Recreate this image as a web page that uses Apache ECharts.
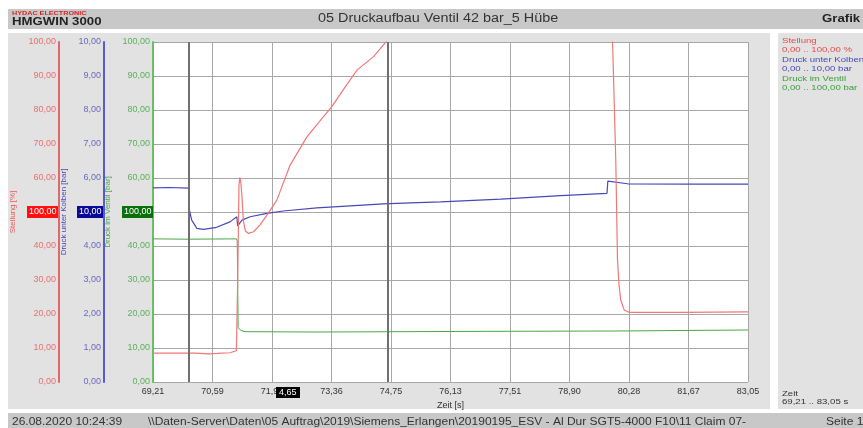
<!DOCTYPE html>
<html><head><meta charset="utf-8">
<script src="https://cdn.jsdelivr.net/npm/echarts@6/dist/echarts.min.js"></script>
<style>html,body{margin:0;padding:0;background:#fff}#c{width:863px;height:428px}</style>
</head><body><div id="c"></div>
<script>
// Time ticks (s)
const timeTicks = [69.21, 70.594, 71.978, 73.362, 74.746, 76.13, 77.514, 78.898, 80.282, 81.666, 83.05];
const cursorTimes = [70.05, 74.66];

// Stellung [%]
const stellungT = [69.21, 70.2, 70.5, 70.7, 71.0, 71.15, 71.18, 71.21, 71.23, 71.25, 71.28, 71.31, 71.36, 71.43, 71.55, 71.70, 71.86, 72.09, 72.40, 72.79, 73.08, 73.37, 73.67, 73.96, 74.34, 74.66, 75.5, 77.0, 79.0, 79.86, 79.90, 79.975, 80.014, 80.05, 80.09, 80.17, 80.28, 81.5, 83.05];
const stellungV = [8.5, 8.5, 8.3, 8.4, 8.6, 9.2, 30, 58, 60.2, 59, 54.5, 47.6, 44.4, 43.7, 44.2, 46.2, 49.1, 53.5, 63.8, 72.1, 76.6, 81.0, 86.6, 91.8, 95.7, 100.5, 108, 118, 125, 112, 100, 65, 36, 28.5, 24.1, 21.2, 20.5, 20.5, 20.6];

// Druck unter Kolben [bar]
const kolbenT = [69.21, 69.6, 70.04, 70.05, 70.06, 70.11, 70.23, 70.38, 70.69, 71.00, 71.16, 71.18, 71.28, 71.47, 71.86, 72.24, 73.02, 73.80, 74.57, 75.20, 75.90, 77.30, 78.69, 79.77, 79.79, 80.25, 81.67, 83.05];
const kolbenV = [5.71, 5.72, 5.70, 4.57, 5.04, 4.76, 4.52, 4.49, 4.55, 4.71, 4.86, 4.59, 4.76, 4.86, 4.96, 5.03, 5.12, 5.18, 5.24, 5.27, 5.30, 5.38, 5.48, 5.55, 5.91, 5.83, 5.82, 5.82];

// Druck im Ventil [bar]
const ventilT = [69.21, 70.0, 71.15, 71.17, 71.19, 71.25, 71.35, 73.0, 77.0, 80.0, 83.05];
const ventilV = [42.1, 42.0, 42.1, 41.5, 16.0, 15.2, 14.8, 14.7, 14.9, 15.0, 15.3];

const pairs = (t, v) => t.map((x, i) => [x, v[i]]);
const fmt = (v, d) => v.toFixed(d).replace('.', ',');

const RED = '#e85a5a', BLUE = '#4848b8', GREEN = '#48a848';
const FONT = 'Liberation Sans';
const F = (size, bold) => (bold ? 'bold ' : '') + size + 'px "Liberation Sans"';
const txt = (x, y, text, fill, font, extra) => Object.assign({
  type: 'text', x: x, y: y, scaleX: 1.2, z: 20,
  style: { text: text, fill: fill, font: font, textBaseline: 'top' }
}, extra || {});

const chart = echarts.init(document.getElementById('c'));
chart.setOption({
  backgroundColor: '#ffffff',
  animation: false,
  textStyle: { fontFamily: FONT },
  grid: { left: 153, right: 115, top: 42, bottom: 46, show: true, backgroundColor: '#ffffff', borderWidth: 0 },
  xAxis: {
    type: 'value', min: 69.21, max: 83.05,
    name: 'Zeit [s]', nameLocation: 'middle', nameGap: 17,
    nameTextStyle: { fontSize: 9, color: '#333', fontFamily: FONT },
    axisLine: { show: false },
    axisTick: { show: false, customValues: timeTicks },
    axisLabel: { customValues: timeTicks, formatter: v => fmt(v, 2), fontSize: 9, color: '#333', margin: 5, fontFamily: FONT },
    splitLine: { show: true, lineStyle: { color: '#a8a8a8', width: 1 } }
  },
  yAxis: [
    { type: 'value', min: 0, max: 100, interval: 10, position: 'left', offset: 0,
      name: 'Druck im Ventil [bar]', nameLocation: 'middle', nameGap: 35, nameRotate: 90,
      nameTextStyle: { fontSize: 8, color: GREEN, fontFamily: FONT },
      axisLine: { show: true, lineStyle: { color: '#6cbc6c', width: 2 } },
      axisTick: { show: true, inside: true, length: 3, lineStyle: { color: '#6cbc6c' } },
      axisLabel: { fontSize: 9, color: '#5cb05c', margin: 3, formatter: v => v === 50 ? '' : fmt(v, 2), fontFamily: FONT },
      splitLine: { show: true, lineStyle: { color: '#a8a8a8', width: 1 } } },
    { type: 'value', min: 0, max: 10, interval: 1, position: 'left', offset: 49,
      name: 'Druck unter Kolben [bar]', nameLocation: 'middle', nameGap: 32, nameRotate: 90,
      nameTextStyle: { fontSize: 8, color: BLUE, fontFamily: FONT },
      axisLine: { show: true, lineStyle: { color: '#5a5ad0', width: 2 } },
      axisTick: { show: false },
      axisLabel: { fontSize: 9, color: '#6a6ac0', margin: 3, formatter: v => v === 5 ? '' : fmt(v, 2), fontFamily: FONT },
      splitLine: { show: false } },
    { type: 'value', min: 0, max: 100, interval: 10, position: 'left', offset: 94,
      name: 'Stellung [%]', nameLocation: 'middle', nameGap: 42, nameRotate: 90,
      nameTextStyle: { fontSize: 8, color: RED, fontFamily: FONT },
      axisLine: { show: true, lineStyle: { color: '#e06868', width: 2 } },
      axisTick: { show: false },
      axisLabel: { fontSize: 9, color: '#e87070', margin: 3, formatter: v => v === 50 ? '' : fmt(v, 2), fontFamily: FONT },
      splitLine: { show: false } }
  ],
  series: [
    { name: 'Druck im Ventil', type: 'line', yAxisIndex: 0, data: pairs(ventilT, ventilV), showSymbol: false,
      lineStyle: { color: GREEN, width: 1 }, itemStyle: { color: GREEN },
      markLine: { silent: true, symbol: 'none', label: { show: false },
        lineStyle: { color: '#707070', width: 2, type: 'solid' },
        data: cursorTimes.map(t => ({ xAxis: t })) } },
    { name: 'Druck unter Kolben', type: 'line', yAxisIndex: 1, data: pairs(kolbenT, kolbenV), showSymbol: false,
      lineStyle: { color: BLUE, width: 1.2 }, itemStyle: { color: BLUE } },
    { name: 'Stellung', type: 'line', yAxisIndex: 2, data: pairs(stellungT, stellungV), showSymbol: false, clip: true,
      lineStyle: { color: '#f07878', width: 1.2 }, itemStyle: { color: RED } }
  ],
  graphic: [
    // header
    { type: 'rect', z: -10, shape: { x: 8, y: 9, width: 855, height: 20 }, style: { fill: '#c8c8c8' } },
    txt(12, 10, 'HYDAC ELECTRONIC', '#e02020', F(6, true)),
    txt(12, 16, 'HMGWIN 3000', '#222', F(11, true)),
    txt(318, 13, '05 Druckaufbau Ventil 42 bar_5 Hübe', '#333', F(12)),
    txt(822, 13, 'Grafik', '#222', F(11, true)),
    // main panels
    { type: 'rect', z: -10, shape: { x: 8, y: 33, width: 762, height: 376 }, style: { fill: '#e2e2e2' } },
    { type: 'rect', z: -10, shape: { x: 778, y: 33, width: 85, height: 376 }, style: { fill: '#e2e2e2' } },
    // legend panel
    txt(782, 37, 'Stellung', '#e84848', F(8)),
    txt(782, 46, '0,00 .. 100,00 %', '#e84848', F(8)),
    txt(782, 56, 'Druck unter Kolben', '#4848b8', F(8)),
    txt(782, 65, '0,00 .. 10,00 bar', '#4848b8', F(8)),
    txt(782, 75, 'Druck im Ventil', '#38a038', F(8)),
    txt(782, 84, '0,00 .. 100,00 bar', '#38a038', F(8)),
    txt(782, 390, 'Zeit', '#333', F(8)),
    txt(782, 398, '69,21 .. 83,05 s', '#333', F(8)),
    // axis value boxes
    { type: 'rect', z: 50, shape: { x: 27, y: 206, width: 31, height: 12 }, style: { fill: '#ff1010' } },
    { type: 'text', z: 51, x: 29, y: 207, style: { text: '100,00', fill: '#fff', font: F(9), textBaseline: 'top' } },
    { type: 'rect', z: 50, shape: { x: 77, y: 206, width: 26, height: 12 }, style: { fill: '#0a0a9a' } },
    { type: 'text', z: 51, x: 79, y: 207, style: { text: '10,00', fill: '#fff', font: F(9), textBaseline: 'top' } },
    { type: 'rect', z: 50, shape: { x: 122, y: 206, width: 31, height: 12 }, style: { fill: '#087008' } },
    { type: 'text', z: 51, x: 124, y: 207, style: { text: '100,00', fill: '#fff', font: F(9), textBaseline: 'top' } },
    // cursor label
    { type: 'rect', z: 50, shape: { x: 276, y: 387, width: 24, height: 11 }, style: { fill: '#000' } },
    { type: 'text', z: 51, x: 279, y: 388, style: { text: '4,65', fill: '#fff', font: F(9), textBaseline: 'top' } },
    // status bar
    { type: 'rect', z: -10, shape: { x: 8, y: 413, width: 855, height: 15 }, style: { fill: '#c8c8c8' } },
    txt(12, 417, '26.08.2020 10:24:39', '#333', F(10)),
    txt(148, 417, '\\\\Daten-Server\\Daten\\05 Auftrag\\2019\\Siemens_Erlangen\\20190195_ESV - Al Dur SGT5-4000 F10\\11 Claim 07-', '#333', F(10)),
    txt(826, 417, 'Seite 1', '#333', F(10))
  ]
});
</script></body></html>
